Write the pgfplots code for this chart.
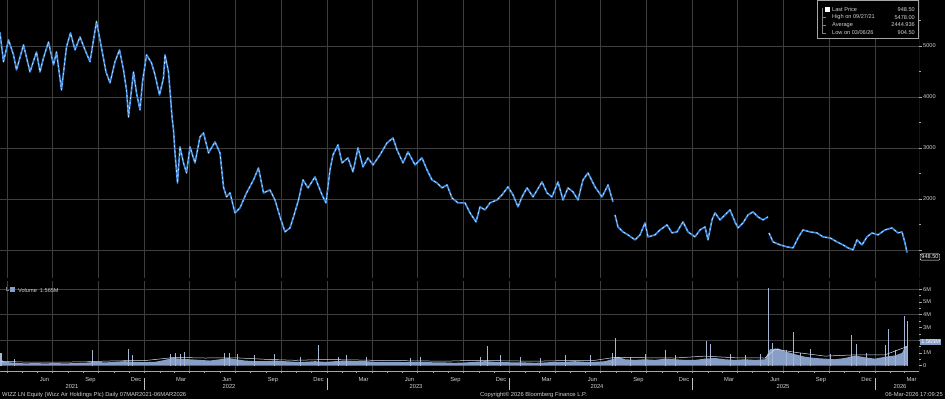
\documentclass[border=0pt]{standalone}
\usepackage{pgfplots}
\usepackage{pgfplotstable}
\pgfplotsset{compat=1.18}
\usepackage{fontspec}
\setmainfont{Liberation Sans}
\definecolor{gridc}{RGB}{62,62,62}
\definecolor{txt}{RGB}{210,210,210}
\definecolor{pblue}{RGB}{62,138,220}
\definecolor{volc}{RGB}{135,158,198}
\definecolor{volma}{RGB}{215,225,240}
\definecolor{axc}{RGB}{165,165,165}

% x = days since 07 Mar 2021
\pgfplotstableread{
d p
0 5200
11 5255
18 4690
28 5118
38 4824
44 4530
58 5020
71 4490
84 4882
91 4490
98 4765
108 5078
118 4628
124 4882
134 4138
144 4980
152 5255
161 4922
171 5176
181 4922
191 4690
199 5176
204 5478
211 5118
223 4490
231 4275
241 4690
250 4922
258 4530
264 4138
268 3608
278 4490
284 4079
291 3746
296 4294
304 4824
314 4667
321 4432
330 4040
338 4373
341 4824
348 4490
352 4000
355 3608
358 3354
361 2902
366 2314
371 3020
378 2706
384 2510
391 3020
401 2706
411 3216
418 3294
428 2902
441 3118
451 2902
458 2236
464 2040
471 2118
481 1727
491 1825
504 2118
518 2373
528 2608
538 2118
551 2176
561 1980
571 1648
581 1354
591 1432
598 1648
608 1980
617 2373
627 2217
641 2432
647 2275
655 2080
663 1923
671 2570
677 2864
687 3060
695 2706
707 2804
717 2530
727 3000
737 2628
747 2804
757 2667
771 2864
785 3098
797 3196
805 2961
817 2706
827 2922
841 2667
855 2804
865 2570
875 2373
885 2314
895 2217
905 2275
915 2020
927 1923
941 1923
951 1727
963 1550
971 1844
981 1786
991 1923
1005 1980
1015 2080
1027 2236
1037 2080
1047 1844
1055 2040
1065 2217
1077 2040
1095 2334
1105 2118
1115 2040
1127 2334
1137 1980
1147 2217
1157 2138
1167 1980
1177 2373
1187 2510
1201 2236
1215 2040
1227 2275
1237 1942
1239 nan
1241 1688
1247 1452
1257 1354
1267 1295
1281 1198
1291 1295
1301 1530
1307 1256
1321 1295
1331 1393
1345 1491
1355 1334
1365 1354
1377 1550
1387 1354
1401 1256
1411 1393
1421 1452
1427 1198
1435 1589
1441 1727
1451 1589
1461 1688
1471 1786
1481 1550
1487 1432
1497 1530
1507 1688
1517 1746
1527 1648
1537 1589
1547 1648
1548 nan
1549 1334
1557 1158
1571 1100
1585 1060
1597 1040
1607 1236
1617 1393
1631 1354
1645 1334
1657 1256
1671 1236
1685 1158
1697 1100
1707 1040
1717 1002
1725 1198
1735 1100
1745 1256
1755 1334
1767 1295
1781 1393
1795 1432
1807 1334
1815 1354
1821 1138
1825 948.5
}\pricetab

% volume in millions
\pgfplotstableread{
d v
11 0.5
21 0.3
41 0.22
61 0.18
81 0.2
101 0.18
121 0.2
141 0.18
161 0.2
181 0.22
201 0.3
221 0.25
241 0.3
261 0.35
281 0.3
301 0.28
321 0.3
341 0.45
355 0.6
371 0.55
391 0.5
411 0.45
431 0.4
451 0.5
467 0.6
483 0.5
501 0.4
521 0.35
541 0.35
561 0.4
581 0.35
601 0.3
621 0.3
641 0.35
661 0.3
681 0.35
701 0.4
721 0.35
741 0.35
761 0.3
781 0.3
801 0.3
821 0.28
841 0.3
861 0.3
881 0.25
901 0.25
921 0.22
941 0.25
961 0.3
981 0.35
1001 0.3
1021 0.28
1041 0.25
1061 0.25
1081 0.22
1101 0.25
1121 0.3
1141 0.3
1161 0.35
1181 0.3
1201 0.3
1221 0.35
1235 0.5
1247 0.7
1261 0.5
1281 0.45
1301 0.5
1321 0.45
1341 0.55
1361 0.5
1381 0.45
1401 0.45
1421 0.55
1441 0.6
1461 0.5
1481 0.45
1501 0.5
1521 0.45
1541 0.5
1551 1.3
1567 1.35
1583 1.1
1601 0.9
1621 0.7
1641 0.6
1661 0.55
1681 0.5
1701 0.6
1721 0.8
1741 0.65
1761 0.55
1781 0.7
1801 0.8
1815 1.0
1821 1.5
1825 1.56
}\voltab

\pgfplotstableread{
d v
13 1.0
39 0.5
195 1.23
267 1.3
275 0.8
351 0.9
361 1.0
371 0.9
379 1.05
459 1.0
469 1.0
485 0.95
519 0.8
559 0.9
611 0.7
647 1.6
687 0.7
703 0.8
743 0.7
831 0.6
851 0.7
971 0.7
985 1.57
1011 0.8
1051 0.7
1091 0.6
1141 0.8
1191 0.8
1235 1.0
1241 2.2
1271 0.7
1301 0.9
1341 1.2
1361 0.8
1423 1.9
1431 1.7
1471 0.9
1501 0.8
1531 0.9
1547 6.1
1555 1.8
1583 1.2
1597 2.65
1611 1.0
1631 1.3
1671 0.9
1713 2.4
1723 1.7
1743 1.0
1781 1.6
1787 2.9
1801 1.2
1819 3.9
1825 3.5
}\spiketab

\pgfplotstableread{
d v
11 0.35
61 0.28
121 0.27
181 0.3
241 0.38
301 0.4
361 0.65
421 0.6
481 0.62
541 0.5
601 0.42
661 0.48
721 0.45
781 0.4
841 0.38
901 0.35
961 0.42
1021 0.38
1081 0.35
1141 0.4
1201 0.42
1241 0.65
1301 0.62
1361 0.6
1421 0.75
1481 0.62
1541 0.6
1561 1.3
1601 1.05
1661 0.75
1721 0.85
1781 0.85
1825 1.5
}\matab

\pgfplotsset{
  bbstyle/.style={
    scale only axis, anchor=south west,
    xmin=11, xmax=1849,
    axis line style={draw=none},
    xtick={25,116,208,300,390,481,573,665,755,846,938,1030,1121,1212,1304,1396,1486,1577,1669,1761},
    xticklabels={},
    major x tick style={draw=none},
    xmajorgrids=true,
    major grid style={gridc, line width=0.6pt},
    ytick pos=right, yticklabel pos=right,
    y tick style={axc, line width=0.5pt},
    tick align=outside, major tick length=3pt, minor tick length=1.8pt,
    yticklabel style={font=\fontsize{5.6}{6}\selectfont, text=txt, anchor=west, inner sep=1pt},
  }
}

\begin{document}
\begin{tikzpicture}
\fill[black] (0pt,0pt) rectangle (945pt,399pt);
\useasboundingbox (0pt,0pt) rectangle (945pt,399pt);

% ---------- price panel ----------
\begin{axis}[bbstyle,
  at={(0pt,121pt)}, width=919pt, height=278pt,
  ymin=450, ymax=5900,
  ytick={1000,2000,3000,4000,5000},
  yticklabels={,2000,3000,4000,5000},
  minor ytick={1500,2500,3500,4500,5500},
  ymajorgrids=true,
  unbounded coords=jump,
]
\addplot[pblue, line width=1.7pt, line join=round] table[x=d,y=p]{\pricetab};
\addplot[white, opacity=0.75, line width=0.7pt, line join=round, dash pattern=on 2pt off 3pt] table[x=d,y=p]{\pricetab};
\draw[axc, line width=0.6pt] (rel axis cs:1,0) -- (rel axis cs:1,1);
\draw[axc!80, line width=0.8pt] (rel axis cs:0,0) -- (rel axis cs:1,0);
\end{axis}

% ---------- volume panel ----------
\begin{axis}[bbstyle,
  at={(0pt,28pt)}, width=919pt, height=90pt,
  ymin=-0.42, ymax=6.65,
  ytick={0,1,2,3,4,5,6},
  yticklabels={0,1M,,3M,4M,5M,6M},
  minor ytick={0.5,1.5,2.5,3.5,4.5,5.5},
  extra y ticks={2,4,6}, extra y tick labels={},
  extra y tick style={grid=major, major tick length=0pt},
  minor xtick={25,55,86,116,147,178,208,239,269,300,331,359,390,420,451,481,512,543,573,604,634,665,696,724,755,785,816,846,877,908,938,969,999,1030,1061,1090,1121,1151,1182,1212,1243,1274,1304,1335,1365,1396,1427,1455,1486,1516,1547,1577,1608,1639,1669,1700,1730,1761,1792,1820},
  minor x tick style={axc, line width=0.5pt},
  xtick pos=bottom,
  extra x ticks={100,192,283,373,465,557,648,738,830,922,1013,1104,1196,1288,1379,1469,1561,1653,1744,1834},
  extra x tick labels={Jun,Sep,Dec,Mar,Jun,Sep,Dec,Mar,Jun,Sep,Dec,Mar,Jun,Sep,Dec,Mar,Jun,Sep,Dec,Mar},
  extra x tick style={grid=none, major tick length=0pt,
    xticklabel style={font=\fontsize{5.8}{6}\selectfont, text=txt, yshift=-2.5pt}},
]
\addplot[draw=none, fill=volc] table[x=d,y=v]{\voltab} \closedcycle;
\addplot[ycomb, volc!75!white, line width=1pt] table[x=d,y=v]{\spiketab};
\addplot[volma, line width=0.5pt] table[x=d,y=v]{\matab};
\draw[axc, line width=0.6pt] (rel axis cs:0,0) -- (rel axis cs:1,0) -- (rel axis cs:1,1.04);
\end{axis}

% ---------- year labels and separators ----------
\foreach \xx in {144.5,327,509.5,692.5,875} {\draw[axc!70, line width=0.5pt] (\xx pt,9pt) -- (\xx pt,21pt);}
\foreach \xx/\yy in {72/2021,229/2022,416/2023,597/2024,783/2025,900/2026}
  {\node[text=txt, font=\fontsize{5.8}{6}\selectfont, inner sep=0pt] at (\xx pt,12pt) {\yy};}

% ---------- footer ----------
\node[text=txt, font=\fontsize{5.8}{6}\selectfont, anchor=west, inner sep=0pt] at (2pt,4pt) {WIZZ LN Equity (Wizz Air Holdings Plc) Daily 07MAR2021-06MAR2026};
\node[text=txt, font=\fontsize{5.8}{6}\selectfont, anchor=west, inner sep=0pt] at (480pt,4pt) {Copyright© 2026 Bloomberg Finance L.P.};
\node[text=txt, font=\fontsize{5.8}{6}\selectfont, anchor=east, inner sep=0pt] at (943pt,4pt) {06-Mar-2026 17:09:25};

% ---------- last price tag ----------
\node[draw=white, fill=black, text=white, font=\fontsize{5.6}{6}\selectfont, inner sep=1.2pt, rounded corners=1pt, anchor=west] at (920pt,142pt) {948.50};
% ---------- last volume tag ----------
\node[fill=volc, text=white, font=\fontsize{5.6}{6}\selectfont, inner sep=1.2pt, anchor=west] at (920pt,57pt) {1.565M};

% ---------- legend (price) ----------
\draw[gray!70, fill=black, line width=0.5pt] (817pt,361pt) rectangle (918.5pt,399pt);
\draw[gray, line width=0.4pt] (822pt,391pt) -- (822pt,366pt) (822pt,382pt) -- (826pt,382pt) (822pt,374pt) -- (826pt,374pt) (822pt,366pt) -- (826pt,366pt);
\fill[white] (825pt,386.5pt) rectangle (830pt,391.5pt);
\begin{scope}[every node/.style={text=txt, font=\fontsize{5.6}{6}\selectfont, inner sep=0pt}]
\node[anchor=west] at (832pt,389pt) {Last Price};
\node[anchor=east] at (915pt,389pt) {948.50};
\node[anchor=west] at (832pt,381.5pt) {High on 09/27/21};
\node[anchor=east] at (915pt,381.5pt) {5478.00};
\node[anchor=west] at (832pt,374pt) {Average};
\node[anchor=east] at (915pt,374pt) {2444.936};
\node[anchor=west] at (832pt,366.5pt) {Low on 03/06/26};
\node[anchor=east] at (915pt,366.5pt) {904.50};
\end{scope}

% ---------- legend (volume) ----------
\draw[gray, line width=0.4pt] (6pt,112pt) -- (6pt,109pt) -- (9pt,109pt);
\fill[volc] (10pt,106.5pt) rectangle (15pt,111.5pt);
\node[text=txt, font=\fontsize{5.6}{6}\selectfont, anchor=west, inner sep=0pt] at (18pt,109pt) {Volume\ \ 1.565M};
\end{tikzpicture}
\end{document}
